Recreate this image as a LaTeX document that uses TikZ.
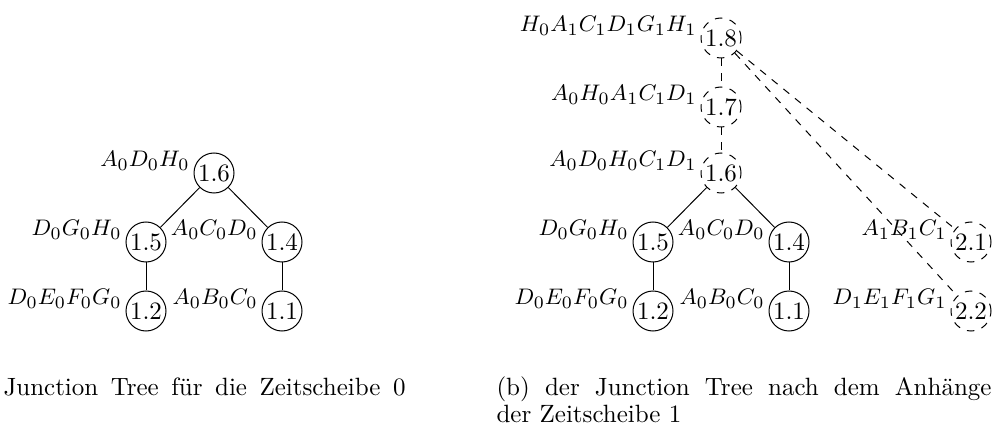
\documentclass[tikz,border=0pt]{standalone}
\usepackage{fontspec}

\begin{document}
\begin{tikzpicture}[x=0.4pt, y=-0.4pt,
  clique/.style={circle, draw, line width=0.4pt, minimum size=16pt, inner sep=0pt},
  newclique/.style={clique, dash pattern=on 3pt off 3pt},
  cliquelabel/.style={label={[anchor=base east, inner sep=0pt, xshift=-1.4pt, yshift=2.6pt,
    font=\fontsize{9.4pt}{11pt}\selectfont]west:#1}},
  sep/.style={line width=0.4pt},
  newsep/.style={sep, dash pattern=on 3pt off 3pt}
]
\useasboundingbox (0,0) rectangle (992,432);

% (a) Zeitscheibe 0
\node[clique, cliquelabel={$A_0D_0H_0$}] (a16) at (214,173) {1.6};
\node[clique, cliquelabel={$D_0G_0H_0$}] (a15) at (146,242) {1.5};
\node[clique, cliquelabel={$A_0C_0D_0$}] (a14) at (282,242) {1.4};
\node[clique, cliquelabel={$D_0E_0F_0G_0$}] (a12) at (146,311) {1.2};
\node[clique, cliquelabel={$A_0B_0C_0$}] (a11) at (282,311) {1.1};

\draw[sep] (a16) -- (a15);
\draw[sep] (a16) -- (a14);
\draw[sep] (a15) -- (a12);
\draw[sep] (a14) -- (a11);

% (b) nach dem Anhaengen
\node[newclique, cliquelabel={$H_0A_1C_1D_1G_1H_1$}] (b18) at (721,38) {1.8};
\node[newclique, cliquelabel={$A_0H_0A_1C_1D_1$}] (b17) at (721,107) {1.7};
\node[newclique, cliquelabel={$A_0D_0H_0C_1D_1$}] (b16) at (721,173) {1.6};
\node[clique, cliquelabel={$D_0G_0H_0$}] (b15) at (653,242) {1.5};
\node[clique, cliquelabel={$A_0C_0D_0$}] (b14) at (789,242) {1.4};
\node[clique, cliquelabel={$D_0E_0F_0G_0$}] (b12) at (653,311) {1.2};
\node[clique, cliquelabel={$A_0B_0C_0$}] (b11) at (789,311) {1.1};
\node[newclique, cliquelabel={$A_1B_1C_1$}] (b21) at (971,242) {2.1};
\node[newclique, cliquelabel={$D_1E_1F_1G_1$}] (b22) at (971,311) {2.2};

\draw[newsep] (b18) -- (b17);
\draw[newsep] (b17) -- (b16);
\draw[sep] (b16) -- (b15);
\draw[sep] (b16) -- (b14);
\draw[sep] (b15) -- (b12);
\draw[sep] (b14) -- (b11);
\draw[newsep] (b18) -- (b21);
\draw[newsep] (b18) -- (b22);

% Unterschriften
\node[anchor=base west, inner sep=0pt] (capa) at (3,395)
  {\makebox[160.8pt][s]{Junction Tree für die Zeitscheibe 0}};
\node[anchor=base west, inner sep=0pt] (capb) at (496,395)
  {\makebox[198pt][s]{(b) der Junction Tree nach dem Anhänge}};
\node[anchor=base west, inner sep=0pt] (capb2) at (496,422) {der Zeitscheibe 1};

\end{tikzpicture}
\end{document}
